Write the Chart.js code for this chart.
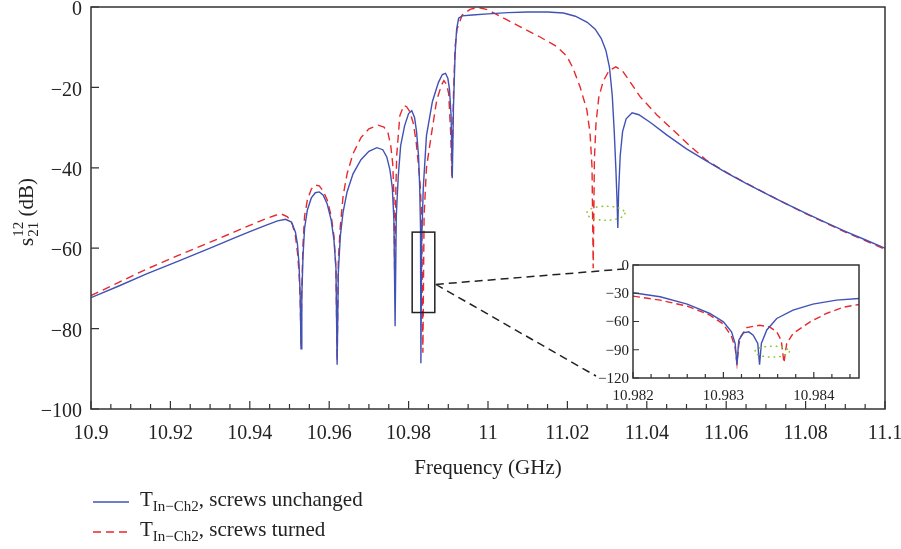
<!DOCTYPE html>
<html>
<head>
<meta charset="utf-8">
<script src="https://cdn.jsdelivr.net/npm/chart.js@4.4.0/dist/chart.umd.min.js"></script>
<style>
  html, body { margin: 0; padding: 0; background: #fff; }
  #wrap { position: relative; width: 901px; height: 549px; overflow: hidden; }
  #main { position: absolute; left: 0; top: 0; }
  #inset { position: absolute; left: 560px; top: 250px; }
  .swatch { position: absolute; left: 93px; }
  .leg { position: absolute; left: 140px; font-family: "Liberation Serif", serif; font-size: 21px; line-height: 20px; color: #222; white-space: nowrap; }
  .leg sub { font-size: 15px; line-height: 0; vertical-align: -5px; }
</style>
</head>
<body>
<div id="wrap">
  <canvas id="main" width="901" height="549"></canvas>
  <canvas id="inset" width="310" height="155"></canvas>
  <svg class="swatch" style="top:500px" width="38" height="4"><line x1="0" y1="2" x2="36" y2="2" stroke="#4052b5" stroke-width="1.5"/></svg>
  <div class="leg" style="top:489px">T<sub>In−Ch2</sub>, screws unchanged</div>
  <svg class="swatch" style="top:530px" width="38" height="4"><line x1="0" y1="2" x2="36" y2="2" stroke="#e8282a" stroke-width="1.5" stroke-dasharray="8 5"/></svg>
  <div class="leg" style="top:519px">T<sub>In−Ch2</sub>, screws turned</div>
</div>
<script>
// main plot data (GHz, dB)
const blueFreq = [10.900, 10.907, 10.914, 10.922, 10.930, 10.936, 10.940, 10.944, 10.947, 10.949,
  10.9505, 10.9515, 10.952, 10.9524, 10.9527, 10.9529, 10.9531, 10.9534, 10.9538, 10.9545,
  10.9555, 10.9565, 10.9575, 10.9585, 10.9595, 10.9605, 10.9612, 10.9617, 10.9620, 10.9623,
  10.9628, 10.9635, 10.9645, 10.966, 10.968, 10.970, 10.972, 10.9735, 10.9745, 10.9753,
  10.9759, 10.9763, 10.9766, 10.9769, 10.9774, 10.978, 10.979, 10.980, 10.9808, 10.9815,
  10.982, 10.9825, 10.9828, 10.9830, 10.9831, 10.9833, 10.9837, 10.9845, 10.986, 10.9875,
  10.9885, 10.9893, 10.9899, 10.9903, 10.9907, 10.991, 10.9913, 10.9917, 10.9921, 10.9926,
  10.9935, 10.996, 11.000, 11.005, 11.010, 11.015, 11.019, 11.022, 11.025, 11.027,
  11.0285, 11.0297, 11.0306, 11.0313, 11.0318, 11.0322, 11.0325, 11.0327, 11.0329, 11.0333,
  11.0339, 11.0348, 11.0363, 11.038, 11.041, 11.045, 11.050, 11.055, 11.060, 11.065,
  11.070, 11.075, 11.080, 11.085, 11.090, 11.095, 11.100];
const blueDb = [-72.3, -69.4, -66.4, -63.2, -60.0, -57.5, -55.9, -54.3, -53.2, -52.8,
  -53.5, -56, -59, -64, -72, -85, -72, -62, -55, -50.5,
  -47.5, -46.2, -46.0, -46.8, -49, -53, -58, -65, -89, -66,
  -57, -51, -46, -41.5, -38, -35.9, -35.0, -35.5, -37.3, -40.5,
  -45, -53, -79.4, -52, -42, -34.5, -29.5, -26.5, -25.8, -27.5,
  -31, -37, -45, -55, -88.6, -58, -45, -32, -23.5, -18.8,
  -16.8, -16.5, -17.8, -20.5, -27, -42.6, -25, -12, -5.5, -2.8,
  -2.2, -2.0, -1.7, -1.4, -1.25, -1.25, -1.5, -2.3, -3.8, -5.5,
  -7.8, -10.8, -15, -22, -31, -40, -48, -55, -46, -37,
  -31, -27.8, -26.3, -26.8, -28.8, -31.8, -35.3, -38.3, -41.2, -43.9,
  -46.4, -48.9, -51.3, -53.6, -55.8, -57.9, -60.0];

const redFreq = [10.900, 10.907, 10.914, 10.922, 10.930, 10.936, 10.940, 10.944, 10.9465, 10.948,
  10.9495, 10.9507, 10.9515, 10.952, 10.9524, 10.9527, 10.9529, 10.9531, 10.9534, 10.9538,
  10.9545, 10.9555, 10.9565, 10.9575, 10.9585, 10.9595, 10.9605, 10.9612, 10.9617, 10.9620,
  10.9623, 10.9628, 10.9635, 10.9645, 10.966, 10.968, 10.970, 10.9723, 10.9738, 10.9748,
  10.9755, 10.976, 10.9763, 10.9765, 10.9768, 10.977, 10.9778, 10.9788, 10.9795, 10.9803,
  10.9812, 10.9819, 10.9824, 10.9829, 10.9833, 10.9836, 10.9839, 10.9845, 10.9858, 10.9871,
  10.9883, 10.9889, 10.9896, 10.9901, 10.9906, 10.9909, 10.9913, 10.9917, 10.9922, 10.9935,
  10.9955, 10.9975, 11.000, 11.0048, 11.0088, 11.013, 11.0174, 11.0199, 11.0214, 11.0232,
  11.0249, 11.0257, 11.0262, 11.0265, 11.0268, 11.0272, 11.0279, 11.029, 11.0305, 11.0322,
  11.0338, 11.0355, 11.0383, 11.0426, 11.0466, 11.0509, 11.055, 11.060, 11.065, 11.070,
  11.075, 11.080, 11.085, 11.090, 11.095, 11.100];
const redDb = [-71.8, -68.5, -65.2, -61.8, -58.5, -56.0, -54.3, -52.7, -51.8, -51.5,
  -52.2, -54, -57, -61, -66, -73, -84, -70, -59, -52,
  -48, -45.3, -44.3, -44.5, -45.8, -48, -52, -57, -65, -88,
  -63, -54.5, -47, -41.5, -36.5, -32.5, -30.3, -29.4, -29.9, -31.3,
  -34.5, -39, -47, -68, -45, -37, -27, -24.5, -24.8, -26,
  -29, -33.5, -38.5, -44, -52, -86, -52, -40, -31.3, -23.1,
  -19.4, -18.3, -19.3, -21.6, -31.3, -42.5, -22, -10, -5.5, -2.0,
  -0.6, -0.1, -0.7, -3.2, -5.3, -7.4, -9.9, -12.3, -15.2, -19.9,
  -25.6, -31.3, -39.8, -65, -38, -29, -22.5, -18.5, -15.8, -14.9,
  -15.8, -18.2, -22.3, -26.9, -30.6, -34.6, -38.1, -41.1, -43.8, -46.4,
  -48.9, -51.4, -53.7, -56.0, -58.1, -60.3];

// inset (zoom around 10.9831 GHz)
const insetBlueFreq = [10.98200, 10.98230, 10.98260, 10.98285, 10.98300, 10.98309, 10.98313, 10.98315, 10.98317, 10.98322,
  10.98328, 10.98333, 10.98338, 10.98340, 10.98342, 10.98348, 10.98359, 10.98377, 10.98399, 10.98425, 10.98450];
const insetBlueDb = [-29.5, -33.7, -41.5, -51.5, -60.4, -71, -83.4, -105.8, -80, -72,
  -71, -74.5, -83.4, -105.8, -83.4, -69, -56.8, -48, -41.5, -37.3, -35.5];
const insetRedFreq = [10.98200, 10.98230, 10.98260, 10.98285, 10.98300, 10.98309, 10.98313, 10.98315, 10.98317, 10.98319,
  10.98326, 10.98340, 10.98351, 10.98359, 10.98364, 10.98367, 10.98370, 10.98377, 10.98396, 10.98414, 10.98432, 10.98450];
const insetRedDb = [-33, -37.3, -43.7, -53.2, -62.8, -76, -88, -104.7, -85, -76.3,
  -66.4, -64, -65.7, -71, -80, -103.7, -83.4, -72.8, -60.4, -51.5, -45, -41.9];

const xTicks = [10.9, 10.92, 10.94, 10.96, 10.98, 11, 11.02, 11.04, 11.06, 11.08, 11.1];
const yTicks = [0, -20, -40, -60, -80, -100];
const insetXTicks = [10.982, 10.983, 10.984];
const insetYTicks = [0, -30, -60, -90, -120];

// zoom box and marked spots
const zoomBox = { x0: 10.9809, x1: 10.9866, y0: -76, y1: -56 };
const mainMark = { x: 11.0297, y: -51.3, rx: 0.0048, ry: 1.75 };
const insetMark = { x: 10.98354, y: -92, rx: 0.00019, ry: 5.8 };

const BLUE = "#4052b5";
const RED = "#e8282a";
const GREEN = "#8ac926";
const AXIS = "#333";

Chart.defaults.font.family = "'Liberation Serif', serif";
Chart.defaults.color = "#222";

function pts(xs, ys) {
  return xs.map((x, i) => ({ x: x, y: ys[i] }));
}

function minusFmt(v) {
  const n = parseFloat(Number(v).toFixed(4));
  return n < 0 ? "\u2212" + Math.abs(n) : String(n);
}

// fixed axis box sizes, no extra room for overflowing labels
function fixX(h) {
  return (s) => { s.height = h; s.paddingLeft = 0; s.paddingRight = 0; };
}
function fixY(w) {
  return (s) => { s.width = w; s.paddingTop = 0; s.paddingBottom = 0; };
}

function frameAndTicks(chart, minorStep, xMin, xMax, majLen, minLen) {
  const { ctx, chartArea: a, scales } = chart;
  ctx.save();
  ctx.strokeStyle = AXIS;
  ctx.lineWidth = 1.5;
  ctx.setLineDash([]);
  ctx.strokeRect(a.left, a.top, a.right - a.left, a.bottom - a.top);
  ctx.lineWidth = 1.2;
  ctx.beginPath();
  scales.y.ticks.forEach((t) => {
    const y = scales.y.getPixelForValue(t.value);
    ctx.moveTo(a.left, y);
    ctx.lineTo(a.left + majLen, y);
  });
  const n = Math.floor((xMax - xMin) / minorStep + 1e-6);
  for (let i = 0; i <= n; i++) {
    const v = xMin + i * minorStep;
    const x = scales.x.getPixelForValue(v);
    const major = scales.x.ticks.some((t) => Math.abs(t.value - v) < minorStep / 10);
    ctx.moveTo(x, a.bottom);
    ctx.lineTo(x, a.bottom - (major ? majLen : minLen));
  }
  ctx.stroke();
  ctx.restore();
}

function dottedEllipse(chart, m) {
  const { ctx, scales } = chart;
  const cx = scales.x.getPixelForValue(m.x);
  const cy = scales.y.getPixelForValue(m.y);
  const rx = Math.abs(scales.x.getPixelForValue(m.x + m.rx) - cx);
  const ry = Math.abs(scales.y.getPixelForValue(m.y + m.ry) - cy);
  ctx.save();
  ctx.strokeStyle = GREEN;
  ctx.lineWidth = 1.6;
  ctx.lineCap = "round";
  ctx.setLineDash([0.5, 5]);
  ctx.beginPath();
  ctx.ellipse(cx, cy, rx, ry, 0, 0, Math.PI * 2);
  ctx.stroke();
  ctx.restore();
}

// Inset chart
const insetPlugin = {
  id: "insetDecor",
  afterDraw(chart) {
    frameAndTicks(chart, 0.0002, 10.982, 10.9845, 6, 4);
    dottedEllipse(chart, insetMark);
  }
};

const insetChart = new Chart(document.getElementById("inset").getContext("2d"), {
  type: "line",
  data: {
    datasets: [
      { data: pts(insetBlueFreq, insetBlueDb), borderColor: BLUE, borderWidth: 1.4, pointRadius: 0, tension: 0 },
      { data: pts(insetRedFreq, insetRedDb), borderColor: RED, borderWidth: 1.4, borderDash: [7, 4], pointRadius: 0, tension: 0 }
    ]
  },
  options: {
    responsive: false,
    animation: false,
    events: [],
    layout: { padding: { left: 0, right: 11, top: 15, bottom: 0 } },
    plugins: { legend: { display: false }, tooltip: { enabled: false } },
    scales: {
      x: {
        type: "linear", min: 10.982, max: 10.9845,
        afterBuildTicks: (s) => { s.ticks = insetXTicks.map((v) => ({ value: v })); },
        afterFit: fixX(27),
        grid: { display: false, drawTicks: false }, border: { display: false },
        ticks: { autoSkip: false, maxRotation: 0, padding: 9, font: { size: 15 }, callback: (v) => minusFmt(v) }
      },
      y: {
        min: -120, max: 0,
        afterBuildTicks: (s) => { s.ticks = insetYTicks.map((v) => ({ value: v })); },
        afterFit: fixY(73),
        grid: { display: false, drawTicks: false }, border: { display: false },
        ticks: { padding: 4, labelOffset: 1, font: { size: 15 }, callback: (v) => minusFmt(v) }
      }
    }
  },
  plugins: [insetPlugin]
});

// Main chart
const mainPlugin = {
  id: "mainDecor",
  afterDraw(chart) {
    const { ctx, scales } = chart;
    frameAndTicks(chart, 0.005, 10.9, 11.1, 8, 5);
    dottedEllipse(chart, mainMark);

    // zoom box
    const bx0 = scales.x.getPixelForValue(zoomBox.x0);
    const bx1 = scales.x.getPixelForValue(zoomBox.x1);
    const by0 = scales.y.getPixelForValue(zoomBox.y1);
    const by1 = scales.y.getPixelForValue(zoomBox.y0);
    ctx.save();
    ctx.strokeStyle = "#222";
    ctx.lineWidth = 1.5;
    ctx.strokeRect(bx0, by0, bx1 - bx0, by1 - by0);

    // dashed connectors to the inset
    const ia = insetChart.chartArea;
    const ox = insetChart.canvas.offsetLeft;
    const oy = insetChart.canvas.offsetTop;
    const sy = scales.y.getPixelForValue(-69);
    ctx.setLineDash([8, 5]);
    ctx.beginPath();
    ctx.moveTo(bx1 + 1, sy);
    ctx.lineTo(ox + ia.left - 9, oy + ia.top + 4);
    ctx.moveTo(bx1 + 1, sy);
    ctx.lineTo(ox + ia.left - 37, oy + ia.bottom - 2);
    ctx.stroke();
    ctx.restore();

    // y axis title  s^12_21 (dB)
    ctx.save();
    ctx.translate(33, 246);
    ctx.rotate(-Math.PI / 2);
    ctx.fillStyle = "#222";
    ctx.textBaseline = "alphabetic";
    ctx.font = "21px 'Liberation Serif', serif";
    ctx.fillText("s", 0, 0);
    const w = ctx.measureText("s").width + 1;
    ctx.font = "15px 'Liberation Serif', serif";
    ctx.fillText("12", w, -10);
    ctx.fillText("21", w, 5);
    const w2 = ctx.measureText("21").width;
    ctx.font = "21px 'Liberation Serif', serif";
    ctx.fillText(" (dB)", w + w2, 0);
    ctx.restore();
  }
};

new Chart(document.getElementById("main").getContext("2d"), {
  type: "line",
  data: {
    datasets: [
      { data: pts(blueFreq, blueDb), borderColor: BLUE, borderWidth: 1.4, pointRadius: 0, tension: 0 },
      { data: pts(redFreq, redDb), borderColor: RED, borderWidth: 1.4, borderDash: [8, 5], pointRadius: 0, tension: 0 }
    ]
  },
  options: {
    responsive: false,
    animation: false,
    events: [],
    layout: { padding: { left: 0, right: 16, top: 7, bottom: 0 } },
    plugins: { legend: { display: false }, tooltip: { enabled: false } },
    scales: {
      x: {
        type: "linear", min: 10.9, max: 11.1,
        afterBuildTicks: (s) => { s.ticks = xTicks.map((v) => ({ value: v })); },
        afterFit: fixX(140),
        grid: { display: false, drawTicks: false }, border: { display: false },
        ticks: { autoSkip: false, maxRotation: 0, padding: 13, font: { size: 20 }, callback: (v) => minusFmt(v) },
        title: { display: true, text: "Frequency (GHz)", font: { size: 21 }, padding: { top: 0, bottom: 68 } }
      },
      y: {
        min: -100, max: 0,
        afterBuildTicks: (s) => { s.ticks = yTicks.map((v) => ({ value: v })); },
        afterFit: fixY(91),
        grid: { display: false, drawTicks: false }, border: { display: false },
        ticks: { padding: 9, labelOffset: 3, font: { size: 20 }, callback: (v) => minusFmt(v) }
      }
    }
  },
  plugins: [mainPlugin]
});
</script>
</body>
</html>
